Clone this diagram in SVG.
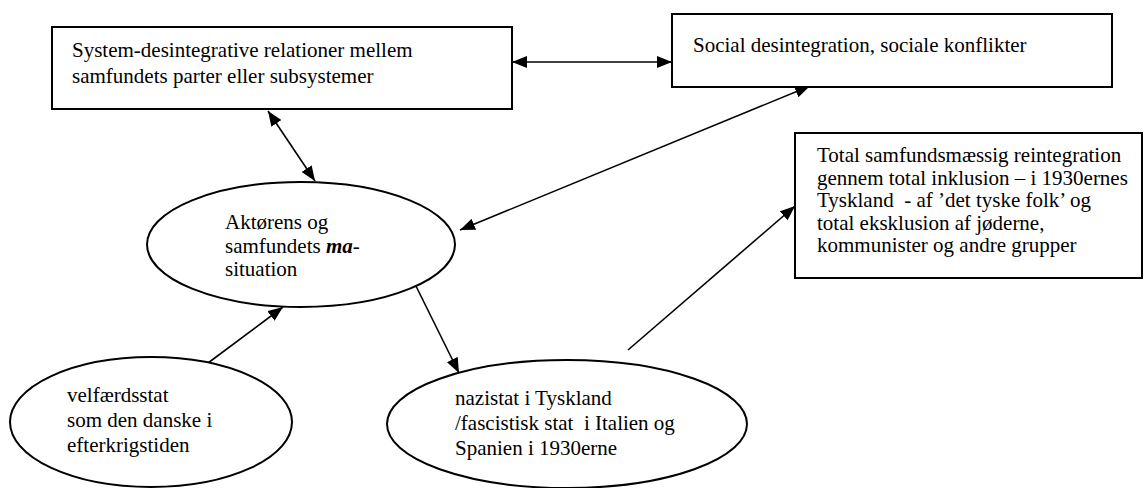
<svg xmlns="http://www.w3.org/2000/svg" width="1144" height="488" viewBox="0 0 1144 488">
<defs>
<style>
.box{fill:#fff;stroke:#000;stroke-width:2}
.ell{fill:#fff;stroke:#000;stroke-width:2}
.t{font-family:"Liberation Serif","Times New Roman",serif;font-size:21px;fill:#000}
.c{stroke:#000;stroke-width:1.6;fill:none}
</style>
<marker id="ahb" viewBox="0 0 15 12" refX="15" refY="6" markerWidth="15" markerHeight="12" markerUnits="userSpaceOnUse" orient="auto-start-reverse">
<path d="M0,0 L15,6 L0,12 Z" fill="#000"/>
</marker>
</defs>
<rect width="1144" height="488" fill="#fff"/>
<g id="connectors">
<line class="c" x1="512" y1="62" x2="672" y2="62" marker-start="url(#ahb)" marker-end="url(#ahb)"/>
<line class="c" x1="268" y1="111" x2="315" y2="181" marker-start="url(#ahb)" marker-end="url(#ahb)"/>
<line class="c" x1="810" y1="86" x2="460" y2="230" marker-start="url(#ahb)" marker-end="url(#ahb)"/>
<line class="c" x1="208" y1="363" x2="283" y2="307" marker-end="url(#ahb)"/>
<line class="c" x1="412" y1="278" x2="459" y2="373" marker-end="url(#ahb)"/>
<line class="c" x1="628" y1="350" x2="795" y2="206" marker-end="url(#ahb)"/>
</g>
<g id="box-system">
<rect class="box" x="52" y="27" width="460" height="82"/>
<text class="t" x="72" y="57">System-desintegrative relationer mellem</text>
<text class="t" x="72" y="83">samfundets parter eller subsystemer</text>
</g>
<g id="box-social">
<rect class="box" x="672" y="14" width="440" height="73"/>
<text class="t" x="693" y="52">Social desintegration, sociale konflikter</text>
</g>
<g id="box-total">
<rect class="box" x="795" y="133" width="347" height="145"/>
<text class="t" x="817" y="162">Total samfundsmæssig reintegration</text>
<text class="t" x="817" y="185">gennem total inklusion – i 1930ernes</text>
<text class="t" x="817" y="207" xml:space="preserve">Tyskland  - af ’det tyske folk’ og</text>
<text class="t" x="817" y="230">total eksklusion af jøderne,</text>
<text class="t" x="817" y="252">kommunister og andre grupper</text>
</g>
<g id="ell-aktoer">
<ellipse class="ell" cx="301" cy="244.5" rx="154" ry="62.5"/>
<text class="t" x="225" y="229">Aktørens og</text>
<text class="t" x="225" y="253">samfundets <tspan font-weight="bold" font-style="italic">ma</tspan>-</text>
<text class="t" x="225" y="276">situation</text>
</g>
<g id="ell-velfaerd">
<ellipse class="ell" cx="151" cy="422" rx="141" ry="65"/>
<text class="t" x="67" y="402">velfærdsstat</text>
<text class="t" x="67" y="427">som den danske i</text>
<text class="t" x="67" y="452">efterkrigstiden</text>
</g>
<g id="ell-nazi">
<ellipse class="ell" cx="567" cy="424" rx="180" ry="64"/>
<text class="t" x="455" y="405">nazistat i Tyskland</text>
<text class="t" x="455" y="430" xml:space="preserve">/fascistisk stat  i Italien og</text>
<text class="t" x="455" y="455">Spanien i 1930erne</text>
</g>
</svg>
